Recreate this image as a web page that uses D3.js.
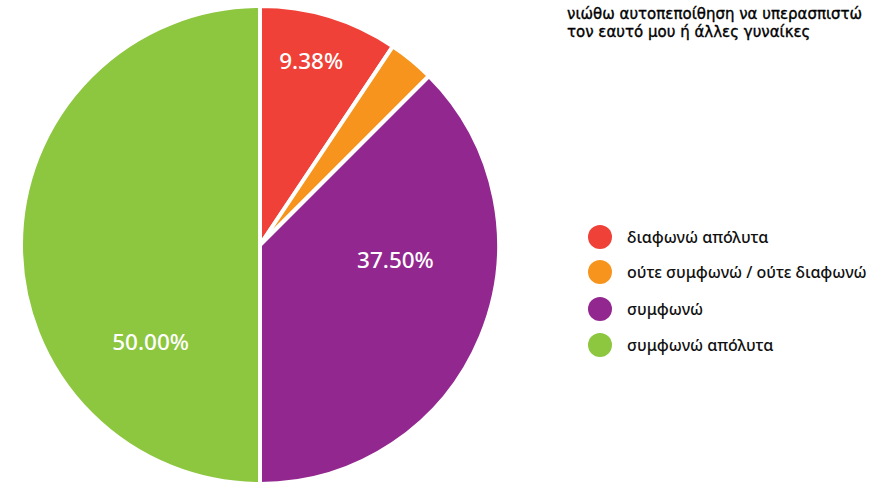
<!DOCTYPE html>
<html>
<head>
<meta charset="utf-8">
<script src="https://cdn.jsdelivr.net/npm/d3@7"></script>
<style>
  body { margin: 0; background: #fff; }
  svg { font-family: "Noto Sans", "DejaVu Sans", sans-serif; }
</style>
</head>
<body>
<svg class="pie" width="890" height="483"></svg>
<script>
// data
var categories = ["διαφωνώ απόλυτα", "ούτε συμφωνώ / ούτε διαφωνώ", "συμφωνώ", "συμφωνώ απόλυτα"];
var values = [9.38, 3.12, 37.50, 50.00];
var valueLabels = ["9.38%", "", "37.50%", "50.00%"];
var colors = ["#ef4138", "#f7941d", "#92278f", "#8dc63f"];
var titleLines = ["νιώθω αυτοπεποίθηση να υπερασπιστώ", "τον εαυτό μου ή άλλες γυναίκες"];

// where the label sits inside each slice (fraction of the slice span, fraction of radius)
var labelSpan = [0.46, 0.5, 0.38, 0.27];
var labelRad = [0.8, 0.8, 0.57, 0.61];

var svg = d3.select("svg.pie"),
    cx = 260, cy = 245, radius = 239;

var g = svg.append("g").attr("transform", "translate(" + cx + "," + cy + ")");

var pie = d3.pie().sort(null).value(function(d) { return d; });
var arc = d3.arc().innerRadius(0).outerRadius(radius);
var arcs = pie(values);

g.selectAll("path")
    .data(arcs)
    .enter()
    .append("path")
    .attr("d", arc)
    .attr("fill", function(d, i) { return colors[i]; })
    .attr("stroke", "#fff")
    .attr("stroke-width", 4)
    .attr("stroke-linejoin", "round");

g.selectAll("text.val")
    .data(arcs)
    .enter()
    .append("text")
    .attr("class", "val")
    .attr("transform", function(d, i) {
        var a = d.startAngle + (d.endAngle - d.startAngle) * labelSpan[i];
        var r = radius * labelRad[i];
        return "translate(" + (Math.sin(a) * r) + "," + (-Math.cos(a) * r) + ")";
    })
    .attr("text-anchor", "middle")
    .attr("dy", "0.36em")
    .attr("fill", "#fff")
    .attr("font-size", "22.5px")
    .attr("font-weight", 500)
    .text(function(d, i) { return valueLabels[i]; });

// title, two lines (DejaVu has a tighter line box, so the lines don't collide)
svg.append("g")
    .attr("class", "title")
    .selectAll("text")
    .data(titleLines)
    .enter()
    .append("text")
    .attr("x", 567)
    .attr("y", function(d, i) { return 19 + i * 18; })
    .attr("font-family", "'DejaVu Sans', sans-serif")
    .attr("font-size", "15px")
    .attr("fill", "#000")
    .attr("stroke", "#000")
    .attr("stroke-width", 0.35)
    .text(function(d) { return d; });

// legend
var legend = svg.append("g").attr("class", "legend");
var legendY = [237, 272, 309, 345];
legend.selectAll("circle")
    .data(categories)
    .enter()
    .append("circle")
    .attr("cx", 600)
    .attr("cy", function(d, i) { return legendY[i]; })
    .attr("r", 12)
    .attr("fill", function(d, i) { return colors[i]; });
legend.selectAll("text")
    .data(categories)
    .enter()
    .append("text")
    .attr("x", 627)
    .attr("y", function(d, i) { return legendY[i]; })
    .attr("dy", "0.35em")
    .attr("font-size", "16px")
    .attr("font-weight", 500)
    .attr("fill", "#111")
    .text(function(d) { return d; });
</script>
</body>
</html>
